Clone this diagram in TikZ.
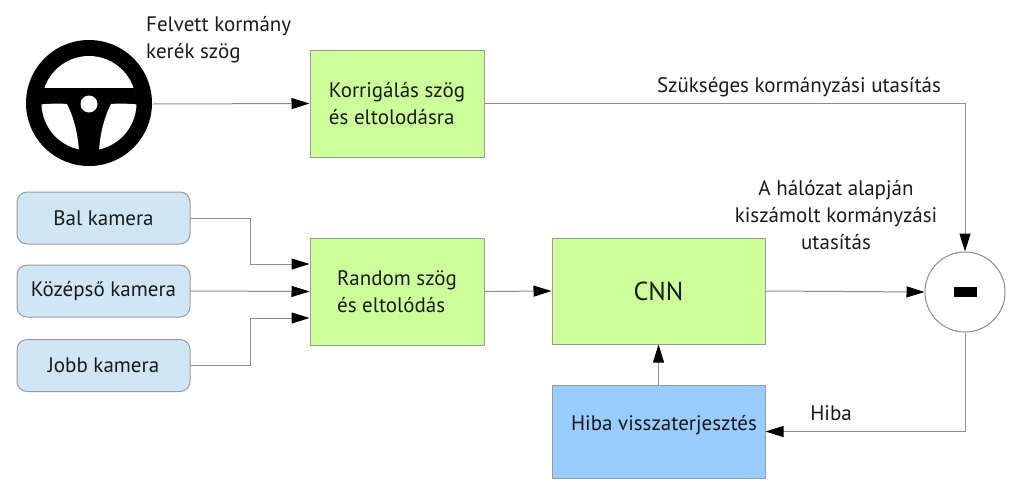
\documentclass[tikz,border=0pt]{standalone}
\usepackage{fontspec}
\setmainfont{PT Sans}
\usetikzlibrary{arrows.meta}
\definecolor{boxgreen}{HTML}{CCFF99}
\definecolor{camblue}{HTML}{D0E6F5}
\definecolor{hibablue}{HTML}{99CCFF}
\definecolor{edgegray}{HTML}{9A9A9A}
\definecolor{linegray}{HTML}{8C8C8C}
\definecolor{txt}{HTML}{1A1A1A}
\begin{document}
\begin{tikzpicture}[x=1pt,y=-1pt,
  every node/.style={text=txt,font=\fontsize{21}{27}\selectfont},
  greenbox/.style={draw=edgegray,fill=boxgreen,line width=1pt,minimum width=174pt,minimum height=107pt,inner sep=0pt,align=left},
  cambox/.style={draw=edgegray,fill=camblue,line width=1pt,rounded corners=10pt,minimum width=173pt,minimum height=52pt,inner sep=0pt},
  conn/.style={draw=linegray,line width=1pt,-{Triangle[length=18pt,width=11pt,fill=black,color=black]}},
  lbl/.style={align=center,inner sep=0pt}
]
\useasboundingbox (0,0) rectangle (1024,485);

% steering wheel
\fill[black] (89,103) circle (63);
\fill[white] (89,103) circle (47);
\begin{scope}
  \clip (89,103) circle (47.5);
  \fill[black] (20,88) rectangle (160,170);
  \fill[white] (20,107) .. controls (40,104) and (55,103) .. (67,104)
     .. controls (74,118) and (78,134) .. (79,152) -- (20,175) -- cycle;
  \fill[white] (158,107) .. controls (138,104) and (123,103) .. (111,104)
     .. controls (104,118) and (100,134) .. (99,152) -- (158,175) -- cycle;
\end{scope}
\fill[white] (89,104) circle (8.5);
\coordinate (wheel) at (153,104);

\node[anchor=west,align=left,inner sep=0pt] (wlabel) at (146,40) {Felvett kormány\\kerék szög};

% boxes
\node[greenbox] (korr) at (397,103.5) {Korrigálás szög\\és eltolodásra};
\node[greenbox] (rand) at (397,291.5) {Random szög\\és eltolódás};
\node[greenbox,minimum width=213pt,minimum height=106pt,font=\fontsize{26}{30}\selectfont] (cnn) at (658.5,291) {CNN};
\node[draw=edgegray,fill=hibablue,line width=1pt,minimum width=213pt,minimum height=93pt,inner sep=0pt] (hiba) at (658.5,431.5) {};
\node[inner sep=0pt] (hibatxt) at (664,425) {Hiba visszaterjesztés};

\node[cambox] (bal) at (103.5,218) {Bal kamera};
\node[cambox] (kozep) at (103.5,291) {Középső kamera};
\node[cambox] (jobb) at (103.5,365.5) {Jobb kamera};

\node[circle,draw=linegray,line width=1pt,fill=white,minimum size=80pt,inner sep=0pt] (minus) at (965,292) {};
\fill[black] (954,287) rectangle (977,297);

% connectors
\draw[conn] (wheel) -- (korr.west);
\draw[conn] (korr.east) -| (minus.north);
\draw[conn] (bal.east) -- ++(60,0) |- ([yshift=27.5pt]rand.west);
\draw[conn] (kozep.east) -- (rand.west);
\draw[conn] (jobb.east) -- ++(60,0) |- ([yshift=-26.5pt]rand.west);
\draw[conn] (rand.east) -- (cnn.west);
\draw[conn] (cnn.east) -- (minus.west);
\draw[conn] (hiba.north) -- (cnn.south);
\draw[conn] (minus.south) |- (hiba.east);

% labels
\node[lbl] (l1) at (799,87) {Szükséges kormányzási utasítás};
\node[lbl] (l2) at (836,215) {A hálózat alapján\\kiszámolt kormányzási\\utasítás};
\node[lbl] (l3) at (831,413) {Hiba};
\end{tikzpicture}
\end{document}
